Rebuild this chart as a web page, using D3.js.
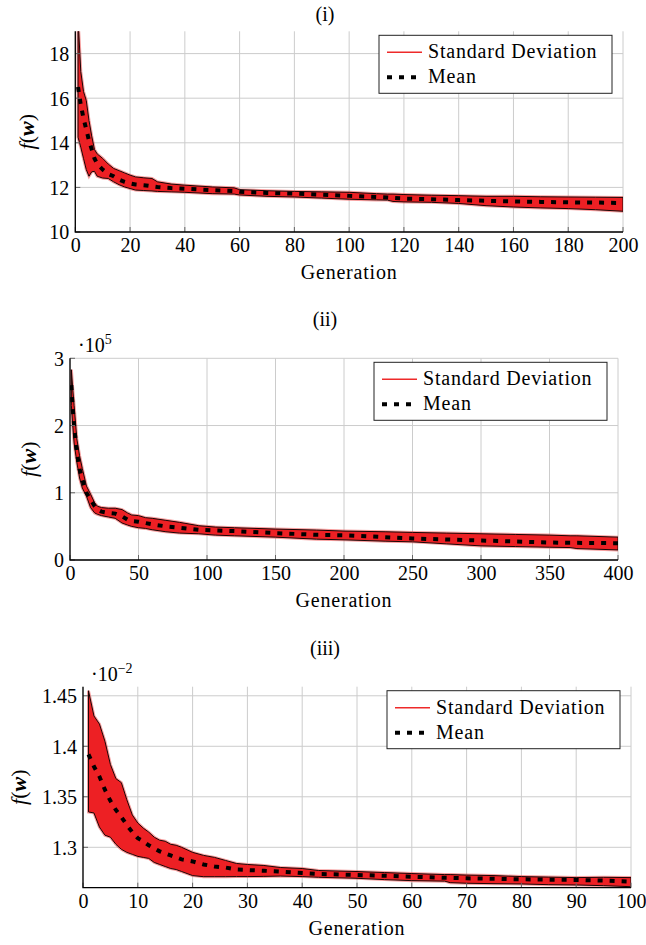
<!DOCTYPE html>
<html>
<head>
<meta charset="utf-8">
<script src="https://cdn.jsdelivr.net/npm/d3@7"></script>
<style>
  body { margin: 0; background: #fff; }
  svg text { font-family: "Liberation Serif", "DejaVu Serif", serif; }
</style>
</head>
<body>
<script>
// ---- panel (i) ----
var gens1 = [1,2,3,4,5,6,7,8,10,12,14,16,18,20,22,25,28,30,35,40,50,58,60,70,80,90,100,110,114,116,120,130,140,150,160,170,180,190,200];
var upper1 = [19.6,17.2,16.3,15.9,15.0,14.3,13.7,13.5,13.3,13.05,12.85,12.75,12.65,12.55,12.47,12.43,12.4,12.25,12.15,12.1,12.02,11.98,11.9,11.85,11.82,11.8,11.78,11.72,11.7,11.7,11.68,11.65,11.63,11.6,11.6,11.58,11.57,11.56,11.55];
var lower1 = [14.25,13.8,13.3,12.8,12.5,12.7,12.72,12.5,12.42,12.4,12.25,12.12,12.02,11.95,11.88,11.86,11.84,11.82,11.8,11.78,11.72,11.7,11.66,11.6,11.57,11.52,11.47,11.44,11.43,11.37,11.35,11.33,11.28,11.18,11.12,11.08,11.05,11.0,10.93];
var mean1 = [16.5,15.7,15.1,14.6,14.1,13.7,13.3,13.05,12.8,12.6,12.5,12.35,12.25,12.18,12.13,12.1,12.05,12.02,11.97,11.94,11.88,11.84,11.8,11.75,11.72,11.67,11.62,11.57,11.55,11.53,11.5,11.47,11.43,11.4,11.37,11.35,11.33,11.32,11.3];
var xTicks1 = [0,20,40,60,80,100,120,140,160,180,200];
var yTicks1 = [10,12,14,16,18];

// ---- panel (ii), values in units of 10^5 ----
var gens2 = [1,2,3,5,7,9,12,15,18,20,23,28,33,38,42,45,50,55,60,70,80,94,106,120,150,180,200,230,250,275,300,325,350,365,370,400];
var upper2 = [2.83,2.55,2.3,1.8,1.55,1.36,1.1,0.98,0.85,0.8,0.78,0.77,0.77,0.75,0.7,0.67,0.66,0.63,0.62,0.59,0.56,0.51,0.49,0.48,0.46,0.445,0.43,0.42,0.41,0.4,0.39,0.38,0.37,0.36,0.36,0.34];
var lower2 = [2.3,2.0,1.74,1.45,1.22,1.07,0.95,0.78,0.7,0.68,0.66,0.64,0.62,0.55,0.52,0.5,0.48,0.47,0.45,0.42,0.4,0.39,0.37,0.36,0.34,0.31,0.3,0.28,0.27,0.24,0.21,0.2,0.19,0.185,0.17,0.15];
var mean2 = [2.6,2.25,2.0,1.6,1.35,1.2,1.0,0.9,0.8,0.75,0.72,0.7,0.69,0.65,0.6,0.58,0.57,0.55,0.53,0.5,0.48,0.45,0.44,0.43,0.4,0.375,0.367,0.34,0.32,0.305,0.29,0.275,0.26,0.255,0.255,0.25];
var xTicks2 = [0,50,100,150,200,250,300,350,400];
var yTicks2 = [0,1,2,3];

// ---- panel (iii), values in units of 10^-2 ----
var gens3 = [1,2,3,4,5,6,7,8,9,10,11,12,13,14,15,16,17,18,20,22,24,26,28,30,33,36,40,43,50,55,60,66,67,70,75,80,85,90,95,100];
var upper3 = [1.455,1.43,1.422,1.405,1.382,1.368,1.364,1.347,1.332,1.324,1.319,1.315,1.31,1.307,1.306,1.303,1.302,1.30,1.295,1.292,1.29,1.287,1.284,1.283,1.282,1.28,1.279,1.277,1.276,1.275,1.274,1.273,1.273,1.2725,1.272,1.271,1.2705,1.270,1.2703,1.270];
var lower3 = [1.335,1.334,1.32,1.312,1.31,1.303,1.298,1.295,1.293,1.291,1.29,1.289,1.285,1.283,1.281,1.279,1.278,1.276,1.272,1.2709,1.2709,1.2709,1.271,1.271,1.2712,1.2715,1.271,1.2703,1.2693,1.268,1.267,1.2665,1.265,1.2644,1.264,1.2637,1.263,1.2627,1.262,1.261];
var mean3 = [1.392,1.38,1.37,1.357,1.346,1.337,1.33,1.322,1.315,1.309,1.306,1.302,1.299,1.296,1.294,1.292,1.29,1.288,1.286,1.283,1.281,1.28,1.278,1.2775,1.2768,1.276,1.2745,1.2736,1.2726,1.2718,1.2709,1.2698,1.2697,1.2693,1.2688,1.2683,1.268,1.2677,1.267,1.266];
var xTicks3 = [0,10,20,30,40,50,60,70,80,90,100];
var yTicks3 = [1.3,1.35,1.4,1.45];

var legendLabels = ["Standard Deviation", "Mean"];
var xLabel = "Generation";

var FS = 20;

var svg = d3.select("body").append("svg")
    .attr("width", 646)
    .attr("height", 945);

var panels = [
  {id: 1, title: "(i)", gens: gens1, upper: upper1, lower: lower1, mean: mean1,
   xTicks: xTicks1, yTicks: yTicks1, xDomain: [0, 200], yDomain: [10, 19],
   left: 75.3, right: 623, top: 31.3, bottom: 232, titleY: 21, ylabX: 27, mult: null},
  {id: 2, title: "(ii)", gens: gens2, upper: upper2, lower: lower2, mean: mean2,
   xTicks: xTicks2, yTicks: yTicks2, xDomain: [0, 400], yDomain: [0, 3],
   left: 70, right: 618, top: 358.3, bottom: 560, titleY: 326, ylabX: 29, mult: "5"},
  {id: 3, title: "(iii)", gens: gens3, upper: upper3, lower: lower3, mean: mean3,
   xTicks: xTicks3, yTicks: yTicks3, xDomain: [0, 100], yDomain: [1.26, 1.459],
   left: 83, right: 631, top: 686.7, bottom: 887.7, titleY: 655, ylabX: 18.5, mult: "\u22122"}
];

panels.forEach(drawPanel);

function drawPanel(p) {
  var x = d3.scaleLinear().domain(p.xDomain).range([p.left, p.right]);
  var y = d3.scaleLinear().domain(p.yDomain).range([p.bottom, p.top]);
  var g = svg.append("g");

  // title
  g.append("text")
      .attr("x", 325).attr("y", p.titleY)
      .attr("text-anchor", "middle")
      .attr("font-size", FS)
      .text(p.title);

  // grid
  g.append("g").selectAll("line").data(p.xTicks).enter().append("line")
      .attr("x1", function(d) { return x(d); }).attr("x2", function(d) { return x(d); })
      .attr("y1", p.top).attr("y2", p.bottom)
      .attr("stroke", "#cccccc").attr("stroke-width", 1);
  g.append("g").selectAll("line").data(p.yTicks).enter().append("line")
      .attr("y1", function(d) { return y(d); }).attr("y2", function(d) { return y(d); })
      .attr("x1", p.left).attr("x2", p.right)
      .attr("stroke", "#cccccc").attr("stroke-width", 1);

  // clip
  svg.append("clipPath").attr("id", "clip" + p.id).append("rect")
      .attr("x", p.left).attr("y", p.top)
      .attr("width", p.right - p.left).attr("height", p.bottom - p.top);

  var idx = d3.range(p.gens.length);
  var area = d3.area()
      .x(function(i) { return x(p.gens[i]); })
      .y0(function(i) { return y(p.lower[i]); })
      .y1(function(i) { return y(p.upper[i]); });
  var meanLine = d3.line()
      .x(function(i) { return x(p.gens[i]); })
      .y(function(i) { return y(p.mean[i]); });

  var plot = g.append("g").attr("clip-path", "url(#clip" + p.id + ")");
  plot.append("path").datum(idx)
      .attr("d", area)
      .attr("fill", "none")
      .attr("stroke", "#f04040").attr("stroke-opacity", 0.5).attr("stroke-width", 3);
  plot.append("path").datum(idx)
      .attr("d", area)
      .attr("fill", "#ed2024")
      .attr("stroke", "#1a0505").attr("stroke-width", 1);
  plot.append("path").datum(idx)
      .attr("d", meanLine)
      .attr("fill", "none")
      .attr("stroke", "#000")
      .attr("stroke-width", 4)
      .attr("stroke-dasharray", "5,7");

  // inner tick marks
  g.append("g").selectAll("line").data(p.xTicks).enter().append("line")
      .attr("x1", function(d) { return x(d); }).attr("x2", function(d) { return x(d); })
      .attr("y1", p.bottom).attr("y2", p.bottom - 5)
      .attr("stroke", "#666").attr("stroke-width", 1);
  g.append("g").selectAll("line").data(p.yTicks).enter().append("line")
      .attr("y1", function(d) { return y(d); }).attr("y2", function(d) { return y(d); })
      .attr("x1", p.left).attr("x2", p.left + 5)
      .attr("stroke", "#666").attr("stroke-width", 1);

  // axis lines (left and bottom only)
  g.append("path")
      .attr("d", "M" + p.left + "," + p.top + "V" + p.bottom + "H" + p.right)
      .attr("fill", "none").attr("stroke", "#000").attr("stroke-width", 1.3);

  // tick labels
  var xa = g.append("g")
      .attr("transform", "translate(0," + p.bottom + ")")
      .call(d3.axisBottom(x).tickValues(p.xTicks).tickSize(0).tickFormat(d3.format("")));
  xa.select(".domain").remove();
  xa.attr("font-family", null);
  xa.selectAll("text").attr("y", 20).attr("dy", 0)
      .attr("font-size", FS).attr("fill", "#000");

  var ya = g.append("g")
      .attr("transform", "translate(" + p.left + ",0)")
      .call(d3.axisLeft(y).tickValues(p.yTicks).tickSize(0).tickFormat(d3.format("")));
  ya.select(".domain").remove();
  ya.attr("font-family", null);
  ya.selectAll("text").attr("x", -6).attr("dy", "0.34em")
      .attr("font-size", FS).attr("fill", "#000");

  // multiplier
  if (p.mult) {
    var m = g.append("text")
        .attr("x", p.left + 8).attr("y", p.top - 6)
        .attr("font-size", FS);
    m.append("tspan").text("\u00b710");
    m.append("tspan").attr("font-size", 14).attr("dy", -8).text(p.mult);
  }

  // axis labels
  g.append("text")
      .attr("x", (p.left + p.right) / 2).attr("y", p.bottom + 47)
      .attr("text-anchor", "middle")
      .attr("font-size", FS).attr("letter-spacing", 0.8)
      .text(xLabel);

  var yl = g.append("text")
      .attr("transform", "translate(" + (p.ylabX + 7) + "," + ((p.top + p.bottom) / 2) + ") rotate(-90)")
      .attr("text-anchor", "middle")
      .attr("font-size", 22);
  yl.append("tspan").attr("font-style", "italic").text("f");
  yl.append("tspan").text("(");
  yl.append("tspan").attr("font-style", "italic").attr("font-weight", "bold").text("w");
  yl.append("tspan").text(")");

  // legend
  var bx = p.right - 11 - 233, by = p.top + 4;
  var lg = g.append("g").attr("transform", "translate(" + bx + "," + by + ")");
  lg.append("rect").attr("width", 233).attr("height", 58)
      .attr("fill", "#fff").attr("stroke", "#222").attr("stroke-width", 1);
  lg.append("line").attr("x1", 8).attr("x2", 43).attr("y1", 17).attr("y2", 17)
      .attr("stroke", "#ee2a2a").attr("stroke-width", 1.5);
  lg.append("line").attr("x1", 8).attr("x2", 43).attr("y1", 42).attr("y2", 42)
      .attr("stroke", "#000").attr("stroke-width", 4).attr("stroke-dasharray", "5,7");
  lg.selectAll("text.lab").data(legendLabels).enter().append("text")
      .attr("class", "lab")
      .attr("x", 49).attr("y", function(d, i) { return 23 + i * 25; })
      .attr("font-size", FS).attr("letter-spacing", 0.8)
      .text(function(d) { return d; });
}
</script>
</body>
</html>
